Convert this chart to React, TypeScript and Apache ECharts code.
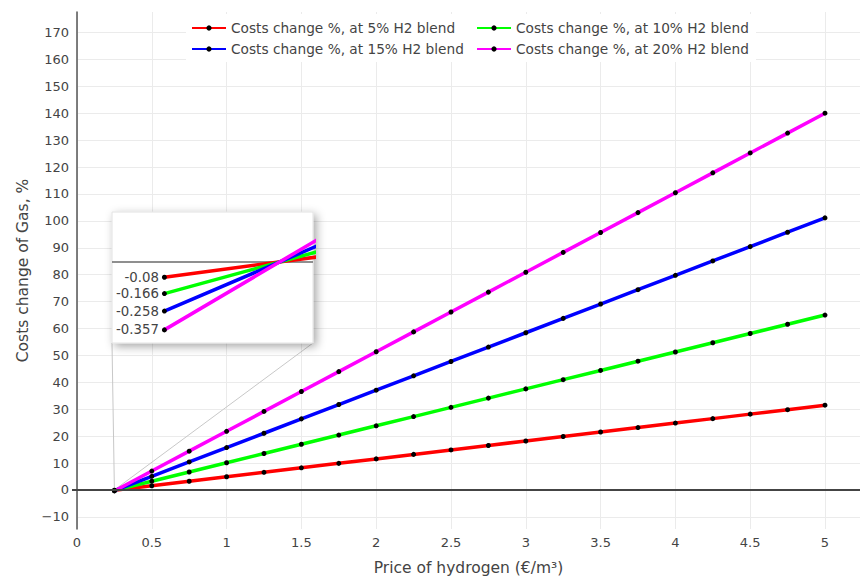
import React, { useEffect, useRef } from 'react';
import * as echarts from 'echarts';

const hydrogenPrice = [0.25, 0.5, 0.75, 1, 1.25, 1.5, 1.75, 2, 2.25, 2.5, 2.75, 3, 3.25, 3.5, 3.75, 4, 4.25, 4.5, 4.75, 5];
const blend5 = [-0.08, 1.58, 3.24, 4.91, 6.57, 8.23, 9.89, 11.55, 13.22, 14.88, 16.54, 18.2, 19.87, 21.53, 23.19, 24.85, 26.51, 28.18, 29.84, 31.5];
const blend10 = [-0.166, 3.26, 6.69, 10.12, 13.55, 16.98, 20.41, 23.84, 27.27, 30.7, 34.13, 37.56, 40.99, 44.42, 47.85, 51.28, 54.71, 58.14, 61.57, 65.0];
const blend15 = [-0.258, 5.08, 10.41, 15.75, 21.08, 26.42, 31.75, 37.08, 42.42, 47.75, 53.09, 58.42, 63.76, 69.09, 74.43, 79.76, 85.1, 90.43, 95.77, 101.1];
const blend20 = [-0.357, 7.03, 14.42, 21.8, 29.19, 36.58, 43.97, 51.35, 58.74, 66.13, 73.52, 80.9, 88.29, 95.68, 103.06, 110.45, 117.84, 125.23, 132.61, 140.0];

const seriesNames = [
  'Costs change %, at 5% H2 blend',
  'Costs change %, at 10% H2 blend',
  'Costs change %, at 15% H2 blend',
  'Costs change %, at 20% H2 blend',
];
const seriesValues = [blend5, blend10, blend15, blend20];
const seriesColors = ['#ff0000', '#00ff00', '#0000ff', '#ff00ff'];

const xTitle = 'Price of hydrogen (€/m³)';
const yTitle = 'Costs change of Gas, %';

const FONT = 'DejaVu Sans';

// inset zoom window
const insetX = [0.2445, 0.2656];
const insetY = [-0.426, 0.263];

export default function App() {
  const ref = useRef<HTMLDivElement>(null);
  useEffect(() => {
    const chart = echarts.init(ref.current!, null, { renderer: 'svg' });
    const pairs = (vals: number[]) => hydrogenPrice.map((x, i) => [x, vals[i]]);

    const mainSeries: any[] = seriesValues.map((vals, i) => ({
      name: seriesNames[i],
      type: 'line',
      xAxisIndex: 0,
      yAxisIndex: 0,
      data: pairs(vals),
      symbol: 'circle',
      symbolSize: 5,
      showAllSymbol: true,
      lineStyle: { color: seriesColors[i], width: 3.5 },
      itemStyle: { color: '#000' },
      z: 2,
      markLine: i === 0 ? {
        silent: true,
        symbol: ['none', 'none'],
        label: { show: false },
        lineStyle: { color: '#444', width: 2, type: 'solid' },
        data: [{ yAxis: 0 }],
      } : undefined,
    }));

    const insetSeries: any[] = seriesValues.map((vals, i) => ({
      name: 'inset' + i,
      type: 'line',
      xAxisIndex: 1,
      yAxisIndex: 1,
      data: pairs(vals),
      clip: true,
      symbol: 'circle',
      symbolSize: 5,
      showAllSymbol: true,
      lineStyle: { color: seriesColors[i], width: 3.5 },
      itemStyle: { color: '#000' },
      z: 5,
      label: {
        show: true,
        position: 'left',
        distance: 3,
        fontFamily: FONT,
        fontSize: 13.3,
        color: '#444',
        formatter: (p: any) => (p.dataIndex === 0 ? String(p.value[1]) : ''),
      },
      markLine: i === 0 ? {
        silent: true,
        symbol: ['none', 'none'],
        label: { show: false },
        lineStyle: { color: '#6a6a6a', width: 1.5, type: 'solid' },
        data: [{ yAxis: 0 }],
      } : undefined,
    }));

    const legendPos = [
      { left: 191, top: 21 },
      { left: 476, top: 21 },
      { left: 191, top: 42 },
      { left: 476, top: 42 },
    ];

    chart.setOption({
      animation: false,
      textStyle: { fontFamily: FONT },
      legend: seriesNames.map((n, i) => ({
        data: [n],
        left: legendPos[i].left,
        top: legendPos[i].top,
        padding: 0,
        itemWidth: 34,
        itemHeight: 6.5,
        z: 4,
        textStyle: { fontFamily: FONT, fontSize: 13.7, color: '#444' },
      })),
      grid: [
        { left: 77, top: 12, right: 0, bottom: 48 },
        { left: 112, top: 212, width: 201, height: 131 },
      ],
      xAxis: [
        {
          type: 'value',
          gridIndex: 0,
          min: 0,
          max: 5.234,
          interval: 0.5,
          name: xTitle,
          nameLocation: 'middle',
          nameGap: 31,
          nameTextStyle: { fontFamily: FONT, fontSize: 15.5, color: '#444' },
          axisLine: { show: false },
          axisTick: { show: false },
          axisLabel: { fontFamily: FONT, fontSize: 13, color: '#444', margin: 7, showMaxLabel: false },
          splitLine: { show: true, showMaxLine: false, lineStyle: { color: '#ebebeb', width: 1 } },
        },
        {
          type: 'value',
          gridIndex: 1,
          min: insetX[0],
          max: insetX[1],
          show: false,
        },
      ],
      yAxis: [
        {
          type: 'value',
          gridIndex: 0,
          min: -14.5,
          max: 177.6,
          splitNumber: 19,
          name: yTitle,
          nameLocation: 'middle',
          nameGap: 44,
          nameTextStyle: { fontFamily: FONT, fontSize: 15.5, color: '#444' },
          axisLine: { show: true, lineStyle: { color: '#555', width: 1.5 } },
          axisTick: { show: false },
          axisLabel: {
            fontFamily: FONT,
            fontSize: 13,
            color: '#444',
            margin: 8,
            showMinLabel: false,
            showMaxLabel: false,
            formatter: (v: number) => (v < 0 ? '\u2212' + Math.abs(v) : String(v)),
          },
          splitLine: { show: true, showMinLine: false, showMaxLine: false, lineStyle: { color: '#ebebeb', width: 1 } },
        },
        {
          type: 'value',
          gridIndex: 1,
          min: insetY[0],
          max: insetY[1],
          show: false,
        },
      ],
      series: [...mainSeries, ...insetSeries],
    });

    const origin = chart.convertToPixel({ gridIndex: 0 } as any, [hydrogenPrice[0], 0]) as number[];
    const zeroPt = chart.convertToPixel({ gridIndex: 0 } as any, [0, 0]) as number[];
    const bl = chart.convertToPixel({ gridIndex: 1 } as any, [insetX[0], insetY[0]]) as number[];
    const br = chart.convertToPixel({ gridIndex: 1 } as any, [insetX[1], insetY[0]]) as number[];
    const tl = chart.convertToPixel({ gridIndex: 1 } as any, [insetX[0], insetY[1]]) as number[];

    chart.setOption({
      graphic: [
        {
          type: 'line',
          z: 1,
          shape: { x1: origin[0], y1: origin[1], x2: bl[0], y2: bl[1] },
          style: { stroke: '#c8c8c8', lineWidth: 1 },
        },
        {
          type: 'line',
          z: 1,
          shape: { x1: origin[0], y1: origin[1], x2: br[0], y2: br[1] },
          style: { stroke: '#c8c8c8', lineWidth: 1 },
        },
        {
          type: 'line',
          z: 3,
          shape: { x1: zeroPt[0] - 5, y1: zeroPt[1], x2: zeroPt[0], y2: zeroPt[1] },
          style: { stroke: '#444', lineWidth: 2 },
        },
        {
          type: 'rect',
          z: 1,
          shape: { x: tl[0], y: tl[1], width: br[0] - tl[0], height: br[1] - tl[1] },
          style: {
            fill: '#fff',
            stroke: '#e2e2e2',
            lineWidth: 1,
            shadowBlur: 10,
            shadowColor: 'rgba(0,0,0,0.35)',
            shadowOffsetX: 3,
            shadowOffsetY: 3,
          },
        },
        {
          type: 'rect',
          z: 3,
          shape: { x: 186, y: 14, width: 570, height: 48 },
          style: { fill: '#fff' },
        },
      ],
    });

    return () => chart.dispose();
  }, []);
  return <div ref={ref} style={{ position: 'absolute', left: 0, top: 0, width: 860, height: 581 }} />;
}
